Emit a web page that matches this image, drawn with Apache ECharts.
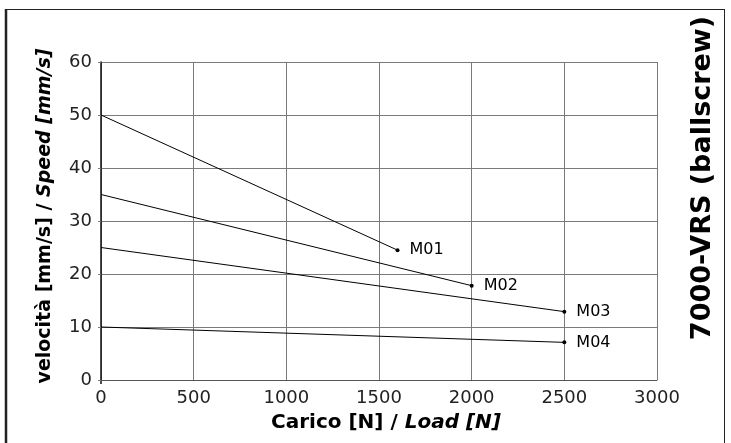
<!DOCTYPE html>
<html>
<head>
<meta charset="utf-8">
<script src="https://cdn.jsdelivr.net/npm/echarts@6/dist/echarts.min.js"></script>
<style>html,body{margin:0;padding:0;background:#fff;}#c{width:731px;height:443px;}</style>
</head>
<body>
<div id="c"></div>
<script>
const seriesNames = ['M01', 'M02', 'M03', 'M04'];
const loadStart = [0, 0, 0, 0];
const loadEnd = [1600, 2000, 2500, 2500];
const speedStart = [50, 35, 25, 10];
const speedEnd = [24.5, 17.8, 12.9, 7.1];
const xTicks = [0, 500, 1000, 1500, 2000, 2500, 3000];
const yTicks = [0, 10, 20, 30, 40, 50, 60];

const chart = echarts.init(document.getElementById('c'), null, {renderer: 'canvas'});
const FONT = '"DejaVu Sans", sans-serif';

const series = seriesNames.map((name, i) => ({
  type: 'line',
  name: name,
  data: [
    {value: [loadStart[i], speedStart[i]], symbol: 'none'},
    {value: [loadEnd[i], speedEnd[i]], symbol: 'circle', symbolSize: 4,
     label: {show: true, position: 'right', distance: 10, formatter: name,
             fontFamily: FONT, fontSize: 16, color: '#000'}}
  ],
  lineStyle: {color: '#000', width: 1},
  itemStyle: {color: '#000'},
  animation: false,
  silent: true
}));

chart.setOption({
  animation: false,
  backgroundColor: '#fff',
  grid: {left: 101, right: 74, top: 62, bottom: 63, containLabel: false},
  xAxis: {
    type: 'value', min: xTicks[0], max: xTicks[xTicks.length - 1], interval: 500,
    axisLine: {show: true, lineStyle: {color: '#555', width: 1}},
    axisTick: {show: false},
    splitLine: {show: true, lineStyle: {color: '#7a7a7a', width: 1}},
    axisLabel: {fontFamily: FONT, fontSize: 18, color: '#222', margin: 9,
                formatter: v => String(v)}
  },
  yAxis: {
    type: 'value', min: yTicks[0], max: yTicks[yTicks.length - 1], interval: 10,
    axisLine: {show: true, lineStyle: {color: '#111', width: 1.5}},
    axisTick: {show: true, length: 3, lineStyle: {color: '#7a7a7a'}},
    splitLine: {show: true, lineStyle: {color: '#7a7a7a', width: 1}},
    axisLabel: {fontFamily: FONT, fontSize: 18, color: '#222', margin: 9,
                formatter: v => String(v)}
  },
  series: series,
  graphic: [
    {type: 'line', shape: {x1: 6, y1: 9, x2: 6, y2: 443}, style: {stroke: '#222', lineWidth: 2.5}, silent: true},
    {type: 'line', shape: {x1: 5, y1: 9.5, x2: 725, y2: 9.5}, style: {stroke: '#222', lineWidth: 1}, silent: true},
    {type: 'line', shape: {x1: 724.5, y1: 9, x2: 724.5, y2: 443}, style: {stroke: '#222', lineWidth: 1}, silent: true},
    {type: 'line', shape: {x1: 101, y1: 380, x2: 101, y2: 384}, style: {stroke: '#111', lineWidth: 1.5}, silent: true},
    {type: 'text', x: 45, y: 216, rotation: Math.PI / 2,
     style: {text: '{a|velocità [mm/s] / }{b|Speed [mm/s]}', align: 'center', verticalAlign: 'middle',
       rich: {a: {fontFamily: FONT, fontSize: 19, fontWeight: 'bold', fill: '#000'},
              b: {fontFamily: FONT, fontSize: 19, fontWeight: 'bold', fontStyle: 'italic', fill: '#000'}}}, silent: true},
    {type: 'text', x: 386, y: 423,
     style: {text: '{a|Carico [N] / }{b|Load [N]}', align: 'center', verticalAlign: 'middle',
       rich: {a: {fontFamily: FONT, fontSize: 20, fontWeight: 'bold', fill: '#000'},
              b: {fontFamily: FONT, fontSize: 20, fontWeight: 'bold', fontStyle: 'italic', fill: '#000'}}}, silent: true},
    {type: 'text', x: 703, y: 178, rotation: Math.PI / 2,
     style: {text: '7000-VRS (ballscrew)', align: 'center', verticalAlign: 'middle',
       fontFamily: FONT, fontSize: 27, fontWeight: 'bold', fill: '#000'}, silent: true}
  ]
});
</script>
</body>
</html>
